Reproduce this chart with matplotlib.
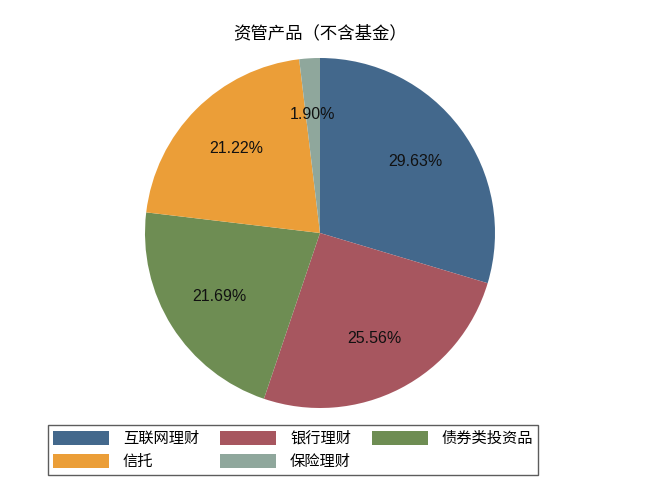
import matplotlib
matplotlib.use('Agg')
import matplotlib.pyplot as plt

plt.rcParams['font.family'] = ['Noto Sans CJK SC', 'DejaVu Sans']

labels = ['互联网理财', '银行理财', '债券类投资品', '信托', '保险理财']
values = [29.63, 25.56, 21.69, 21.22, 1.90]
colors = ['#43688c', '#a7565f', '#6e8d53', '#eb9e38', '#8fa79c']

fig = plt.figure(figsize=(6.45, 4.92), dpi=100)
ax = fig.add_axes([145 / 645, 84 / 492, 350 / 645, 350 / 492])

wedges, texts, autotexts = ax.pie(values, colors=colors, startangle=90, counterclock=False,
                                  autopct='%.2f%%', pctdistance=0.68, radius=1,
                                  textprops={'fontsize': 11.5, 'color': '#111111',
                                             'family': ['Liberation Sans', 'Noto Sans CJK SC']})
ax.set_xlim(-1, 1)
ax.set_ylim(-1, 1)
ax.set_aspect('equal')

fig.text(320 / 645, 1 - 33 / 492, '资管产品（不含基金）', ha='center', va='center', fontsize=12.5)

# matplotlib fills legend columns first, so reorder to get row-wise layout
order = [0, 3, 1, 4, 2]
leg = fig.legend([wedges[i] for i in order], [labels[i] for i in order],
                 ncol=3, loc='center', bbox_to_anchor=(293 / 645, 1 - 450 / 492),
                 fontsize=11, frameon=True, fancybox=False, edgecolor='#333333',
                 handlelength=3.7, handleheight=1.0, handletextpad=0.9,
                 columnspacing=1.35, labelspacing=0.4, borderpad=0.3)
leg.get_frame().set_linewidth(1.0)

fig.savefig('out.png', dpi=100)
